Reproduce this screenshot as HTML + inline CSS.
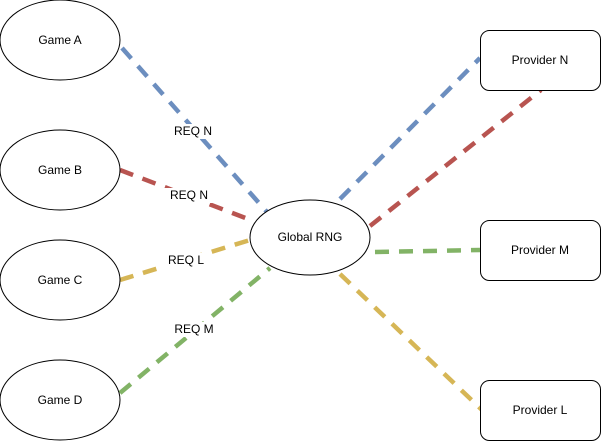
<!DOCTYPE html>
<html><head><meta charset="utf-8"><style>
html,body{margin:0;padding:0;background:#fff;}
svg{display:block;}
text{font-family:"Liberation Sans",sans-serif;font-size:12px;fill:#000;}
</style></head><body>
<svg width="601" height="441" viewBox="0 0 601 441" xmlns="http://www.w3.org/2000/svg">
<g fill="none" stroke-width="4.5" stroke-dasharray="14 10">
<line x1="122" y1="48" x2="267" y2="212" stroke="#6c8ebf"/>
<line x1="120" y1="170" x2="248" y2="219" stroke="#b85450"/>
<line x1="120" y1="280" x2="250" y2="240" stroke="#d6b656"/>
<line x1="120" y1="393" x2="270" y2="268" stroke="#82b366"/>
<line x1="340" y1="199" x2="480" y2="58" stroke="#6c8ebf"/>
<line x1="370" y1="226" x2="541" y2="90" stroke="#b85450"/>
<line x1="375" y1="252" x2="480" y2="250" stroke="#82b366"/>
<line x1="340" y1="274" x2="482" y2="410" stroke="#d6b656"/>
</g>
<g fill="#fff">
<rect x="167" y="124" width="52" height="15"/>
<rect x="163" y="188" width="52" height="15"/>
<rect x="164" y="253" width="44" height="15"/>
<rect x="169" y="322" width="50" height="15"/>
</g>
<text x="193" y="135" text-anchor="middle">REQ N</text>
<text x="189" y="199" text-anchor="middle">REQ N</text>
<text x="186" y="264" text-anchor="middle">REQ L</text>
<text x="194" y="333" text-anchor="middle">REQ M</text>
<g fill="#fff" stroke="#000" stroke-width="1">
<ellipse cx="60" cy="40" rx="60" ry="40"/>
<ellipse cx="60" cy="170" rx="60" ry="40"/>
<ellipse cx="60" cy="280" rx="60" ry="40"/>
<ellipse cx="60" cy="400" rx="60" ry="40"/>
<ellipse cx="310" cy="237.5" rx="60" ry="37.5"/>
<rect x="480.5" y="30.5" width="120" height="60" rx="9"/>
<rect x="480.5" y="220.5" width="120" height="60" rx="9"/>
<rect x="480.5" y="380.5" width="120" height="60" rx="9"/>
</g>
<g text-anchor="middle">
<text x="60" y="44">Game A</text>
<text x="60" y="174">Game B</text>
<text x="60" y="284">Game C</text>
<text x="60" y="404">Game D</text>
<text x="310" y="241">Global RNG</text>
<text x="540" y="64">Provider N</text>
<text x="540" y="254">Provider M</text>
<text x="540" y="414">Provider L</text>
</g>
</svg>
</body></html>
